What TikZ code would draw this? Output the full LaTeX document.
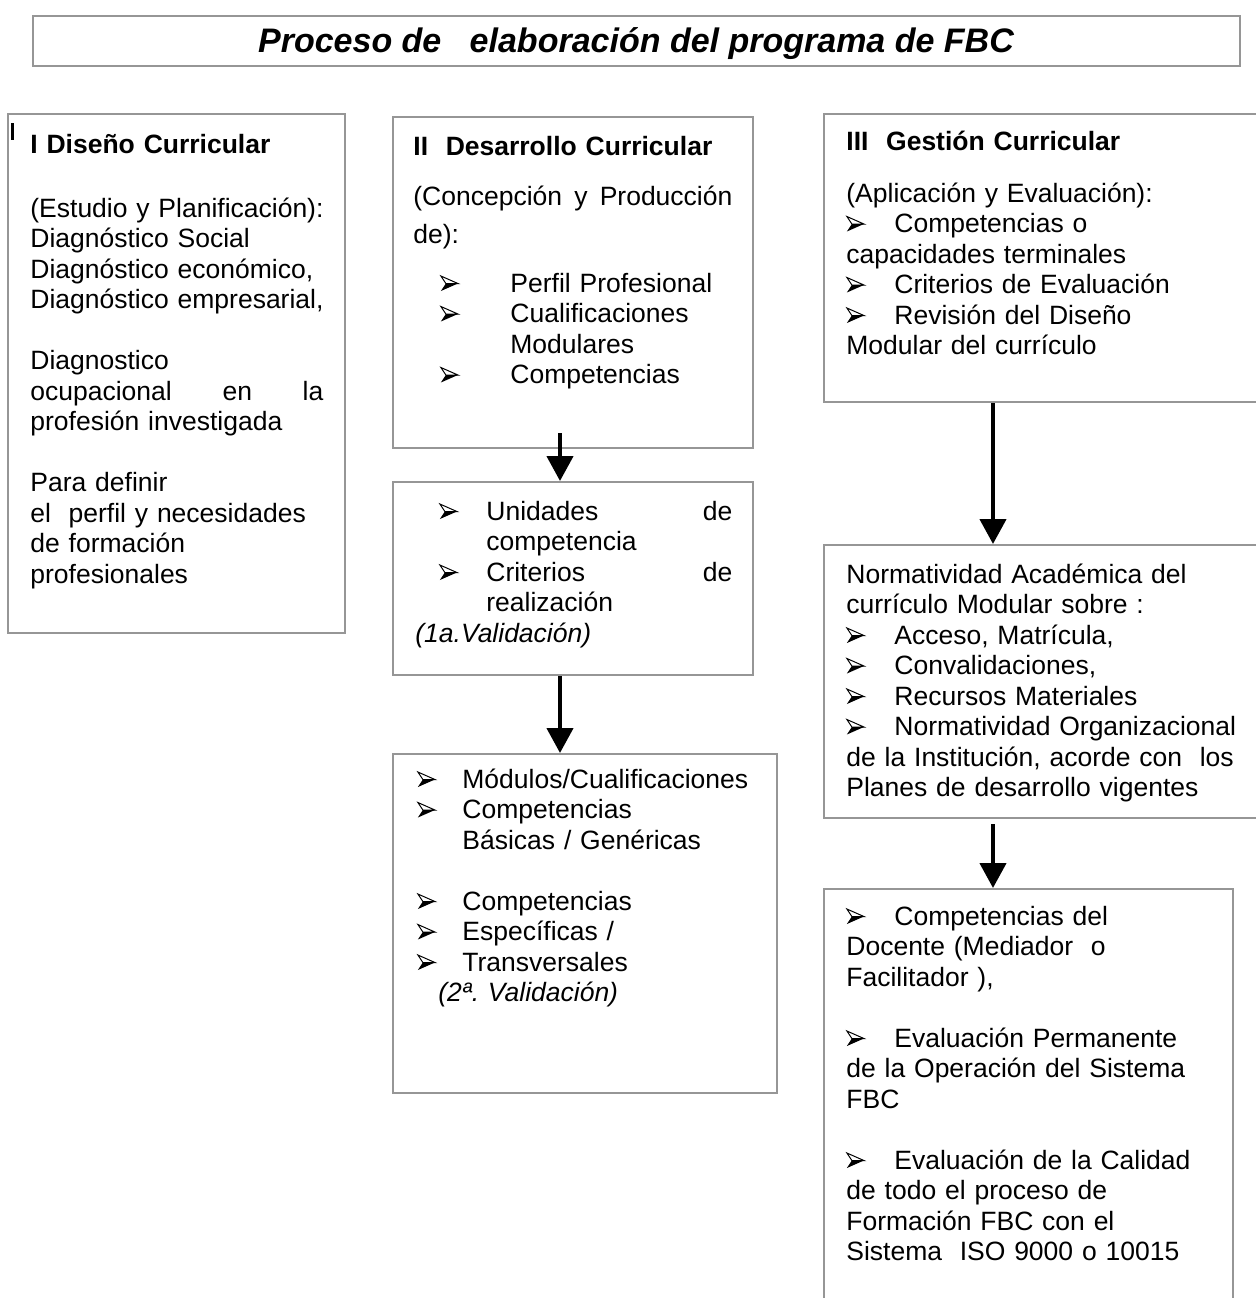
\documentclass[tikz,border=0pt]{standalone}
\usepackage{fontspec}
\setmainfont{Liberation Sans}
\usetikzlibrary{arrows.meta,fit,calc}
\definecolor{framegray}{RGB}{150,150,150}
% three-dimensional arrowhead bullet
\newcommand{\bul}{\tikz[x=0.5pt,y=0.5pt,baseline=0pt,line width=0.5pt,line join=miter]{%
  \fill (0,1) -- (17,8.5) -- (5,8.5) -- cycle;
  \draw (0,16) -- (17,8.5) -- (5,8.5) -- cycle;}}
\frenchspacing
\begin{document}
\begin{tikzpicture}[x=0.5pt,y=-0.5pt,
  frame/.style={draw=framegray, line width=1pt, inner sep=0pt},
  body/.style={anchor=base west, inner sep=0pt, align=left,
    font=\fontsize{13.25pt}{15.25pt}\selectfont},
  link/.style={line width=2.15pt, -{Triangle[width=13pt,length=12.5pt]}}]

\useasboundingbox[fill=white] (0,0) rectangle (1256,1298);

% frames
\node[frame, fit={(33,16) (1240,66)}] (tb) {};
\node[frame, fit={(8,114) (345,633)}] (b1) {};
\node[frame, fit={(393,117) (753,448)}] (b2) {};
\node[frame, fit={(393,482) (753,675)}] (b2b) {};
\node[frame, fit={(393,754) (777,1093)}] (b2c) {};
\node[frame, fit={(824,114) (1266,402)}] (b3) {};
\node[frame, fit={(824,545) (1266,818)}] (b3b) {};
\node[frame, fit={(824,889) (1233,1310)}] (b3c) {};

% heading
\node[anchor=base, inner sep=0pt, font=\fontsize{17pt}{20pt}\selectfont\bfseries\itshape]
  (title) at (636,52) {Proceso de\ \ \ elaboración del programa de FBC};

% small mark in the first frame
\draw[line width=1.5pt] (12,123) -- (12,140);

% I
\node[body, text width=160pt] (t1) at (30,153) {%
\textbf{I Diseño Curricular}\\[16.75pt]
(Estudio y Planificación):\\
Diagnóstico Social\\
Diagnóstico económico,\\
Diagnóstico empresarial,\\[15.25pt]
Diagnostico\\
\makebox[146.5pt][l]{ocupacional\hfill en\hfill la}\\
profesión investigada\\[15.25pt]
Para definir\\
el\ \ perfil y necesidades\\
de formación\\
profesionales};

% II
\node[body, text width=170pt] (t2) at (413,155) {%
\textbf{II\ \ Desarrollo Curricular}\\[9.75pt]
\makebox[159.5pt][l]{(Concepción\hfill y\hfill Producción}\\[3.75pt]
de):\\[9.25pt]
\hspace*{13.5pt}\makebox[35pt][l]{\bul}Perfil Profesional\\
\hspace*{13.5pt}\makebox[35pt][l]{\bul}Cualificaciones\\
\hspace*{48.5pt}Modulares\\
\hspace*{13.5pt}\makebox[35pt][l]{\bul}Competencias};

\node[body, text width=170pt] (t2b) at (415,520) {%
\hspace*{12pt}\makebox[23.5pt][l]{\bul}\makebox[123pt][l]{Unidades\hfill de}\\
\hspace*{35.5pt}competencia\\
\hspace*{12pt}\makebox[23.5pt][l]{\bul}\makebox[123pt][l]{Criterios\hfill de}\\
\hspace*{35.5pt}realización\\
\textit{(1a.Validación)}};

\node[body, text width=180pt] (t2c) at (417,788) {%
\makebox[22.5pt][l]{\bul}Módulos/Cualificaciones\\
\makebox[22.5pt][l]{\bul}Competencias\\
\hspace*{22.5pt}Básicas / Genéricas\\[15.25pt]
\makebox[22.5pt][l]{\bul}Competencias\\
\makebox[22.5pt][l]{\bul}Específicas /\\
\makebox[22.5pt][l]{\bul}Transversales\\
\hspace*{10.5pt}\textit{(2ª. Validación)}};

% III
\node[body, text width=200pt] (t3) at (846,150) {%
\textbf{III\ \ Gestión Curricular}\\[10.75pt]
(Aplicación y Evaluación):\\
\makebox[24pt][l]{\bul}Competencias o\\
capacidades terminales\\
\makebox[24pt][l]{\bul}Criterios de Evaluación\\
\makebox[24pt][l]{\bul}Revisión del Diseño\\
Modular del currículo};

\node[body, text width=200pt] (t3b) at (846,583) {%
Normatividad Académica del\\
currículo Modular sobre :\\
\makebox[24pt][l]{\bul}Acceso, Matrícula,\\
\makebox[24pt][l]{\bul}Convalidaciones,\\
\makebox[24pt][l]{\bul}Recursos Materiales\\
\makebox[24pt][l]{\bul}Normatividad Organizacional\\
de la Institución, acorde con\ \ los\\
Planes de desarrollo vigentes};

\node[body, text width=200pt] (t3c) at (846,925) {%
\makebox[24pt][l]{\bul}Competencias del\\
Docente (Mediador\ \ o\\
Facilitador ),\\[15.25pt]
\makebox[24pt][l]{\bul}Evaluación Permanente\\
de la Operación del Sistema\\
FBC\\[15.25pt]
\makebox[24pt][l]{\bul}Evaluación de la Calidad\\
de todo el proceso de\\
Formación FBC con el\\
Sistema\ \ ISO 9000 o 10015};

% connectors
\coordinate (colL) at (560,0);
\coordinate (colR) at (993,0);
\draw[link] ($(b2.south -| colL)+(0,-16)$) -- (b2b.north -| colL);
\draw[link] (b2b.south -| colL) -- (b2c.north -| colL);
\draw[link] (b3.south -| colR) -- (b3b.north -| colR);
\draw[link] ($(b3b.south -| colR)+(0,5)$) -- (b3c.north -| colR);
\end{tikzpicture}
\end{document}
